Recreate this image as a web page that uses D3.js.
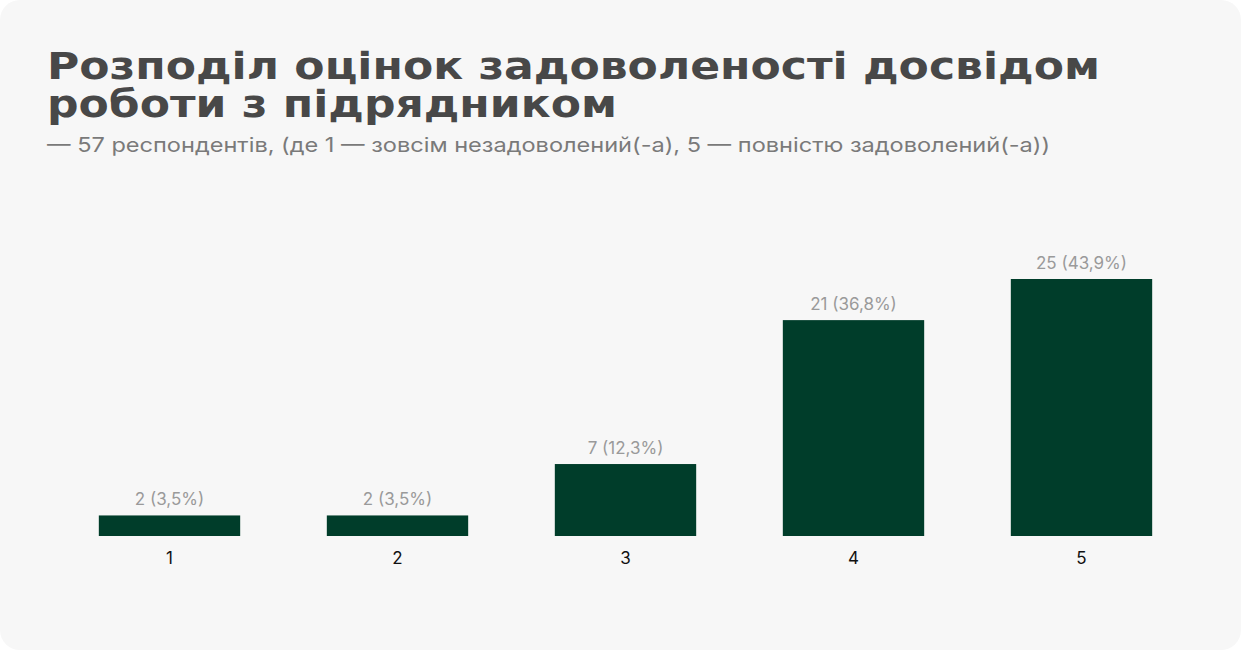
<!DOCTYPE html>
<html><head><meta charset="utf-8">
<script src="https://cdn.jsdelivr.net/npm/d3@7/dist/d3.min.js"></script>
<style>body{margin:0;background:#fff}</style></head>
<body><svg id="c" width="1253" height="659"></svg>
<script>
const categories = ["1","2","3","4","5"];
const values = [2,2,7,21,25];
const labels = ["2 (3,5%)","2 (3,5%)","7 (12,3%)","21 (36,8%)","25 (43,9%)"];
const titleLines = ["Розподіл оцінок задоволеності досвідом","роботи з підрядником"];
const subtitle = "— 57 респондентів, (де 1 — зовсім незадоволений(-а), 5 — повністю задоволений(-а))";

const svg = d3.select("#c");
svg.append("rect").attr("x",0).attr("y",0).attr("width",1241).attr("height",650).attr("rx",20).attr("fill","#f7f7f7");

const t = svg.selectAll("text.title").data(titleLines).join("text").attr("class","title")
  .attr("x",47).attr("y",(d,i)=>79+i*38).attr("font-family","DejaVu Sans").attr("font-weight","bold")
  .attr("font-size",38).attr("fill","#484848").text(d=>d);
const w0 = t.nodes()[0].getComputedTextLength();
const k = 1053/w0;
t.each(function(){ const w=this.getComputedTextLength(); d3.select(this).attr("textLength",w*k).attr("lengthAdjust","spacingAndGlyphs");});

const st = svg.append("text").attr("x",47).attr("y",152).attr("font-family","Inter").attr("font-size",20)
  .attr("fill","#7a7a7a").text(subtitle);
st.attr("textLength",1003).attr("lengthAdjust","spacingAndGlyphs");

const x = d3.scaleBand().domain(categories).range([55.5,1195.5]).paddingInner(0.38).paddingOuter(0.19);
const y = d3.scaleLinear().domain([0,25]).range([536,279]);

svg.selectAll("rect.bar").data(values).join("rect").attr("class","bar")
  .attr("x",(d,i)=>x(categories[i])).attr("width",x.bandwidth())
  .attr("y",d=>y(d)).attr("height",d=>y(0)-y(d)).attr("fill","#003d2a");

svg.selectAll("text.lbl").data(values).join("text").attr("class","lbl")
  .attr("x",(d,i)=>x(categories[i])+x.bandwidth()/2).attr("y",d=>y(d)-10)
  .attr("text-anchor","middle").attr("font-family","Inter").attr("font-size",17).attr("fill","#9a9a9a")
  .text((d,i)=>labels[i]);

const ax = svg.append("g").attr("transform","translate(0,536)").call(d3.axisBottom(x).tickSize(0).tickPadding(16));
ax.select(".domain").remove();
ax.selectAll("text").attr("font-family","Inter").attr("font-size",17).attr("fill","#111");
</script></body></html>
